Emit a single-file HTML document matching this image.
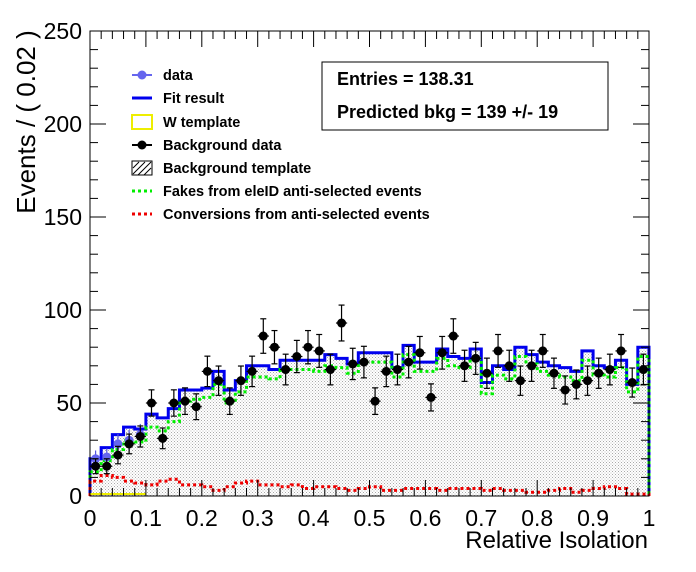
<!DOCTYPE html>
<html><head><meta charset="utf-8"><style>
body{margin:0;background:#fff;}
svg{display:block;font-family:"Liberation Sans",Arial,sans-serif;}
</style></head><body>
<svg id="c" width="696" height="572">
<defs><pattern id="hatch" width="3" height="3" patternUnits="userSpaceOnUse"><rect width="3" height="3" fill="#fff"/><rect width="1" height="1" fill="#aaa"/><rect x="1.5" y="1.5" width="1" height="1" fill="#bbb"/></pattern></defs>
</svg>
<script>
const fitVals=[20,26,33,37,36,44,42,47,57,57,58,67,57,62,70,70,68,73,73,73,73,76,74,71,77,77,77,69,81,72,72,79,75,74,79,61,70,68,80,76,72,70,69,67,78,70,69,73,60,80];
const fakeVals=[13,19,25,30,29,37,35,40,51,52,53,60,50,56,64,64,63,68,68,68,67,70,69,66,72,72,72,64,76,67,67,74,70,69,74,55,65,63,75,71,67,65,64,62,73,65,64,69,56,75];
const convVals=[8,11,10,8,7,6,8,9,6,6,5,3,5,7,8,6,6,5,6,4,5,5,4,3,4,5,3,3,4,4,4,3,4,4,4,3,4,3,3,2,2,3,4,2,3,4,5,4,1,1];
const dataVals=[16,16,22,28,32,50,31,50,51,48,67,62,51,62,67,86,80,68,75,80,78,68,93,71,72,51,67,68,72,77,53,77,86,70,74,66,78,70,62,70,78,66,57,60,62,66,68,78,61,68];
const sigVals=[20,21,28,30,33];
const yTicks=[0,50,100,150,200,250];
const xTicks=[0,0.1,0.2,0.3,0.4,0.5,0.6,0.7,0.8,0.9,1];
const X0=90,X1=649,Y0=496,Y1=31;
const xs=v=>X0+(X1-X0)*v, ys=v=>Y0-(Y0-Y1)*v/250;
const N=fitVals.length,bw=1/N;
const svg=document.getElementById('c');
const NS='http://www.w3.org/2000/svg';
function mk(t,a,p){const e=document.createElementNS(NS,t);for(const k in a)e.setAttribute(k,a[k]);(p||svg).appendChild(e);return e;}
function stepPath(vals){let d='M'+xs(0)+','+ys(0);vals.forEach((v,i)=>{d+=' L'+xs(i*bw)+','+ys(v)+' L'+xs((i+1)*bw)+','+ys(v);});return d+' L'+xs(1)+','+ys(0);}
let e=mk('path',{d:stepPath(fitVals)+' Z',fill:'url(#hatch)',stroke:'none'});


e=mk('path',{d:stepPath(fitVals),fill:'none',stroke:'#0000ee',"stroke-width":3});


e=mk('path',{d:stepPath(fakeVals),fill:'none',stroke:'#00ee00',"stroke-width":3,"stroke-dasharray":"3,3"});


e=mk('path',{d:stepPath(convVals),fill:'none',stroke:'#ee0000',"stroke-width":3,"stroke-dasharray":"3,3"});


e=mk('path',{d:'M'+xs(0)+','+(Y0-2)+' L'+xs(0.1)+','+(Y0-2),stroke:'#eeee00',"stroke-width":2});


sigVals.forEach((v,i)=>{const cx=xs((i+0.5)*bw),cy=ys(v),er=Math.sqrt(v)*1.86;
 mk('line',{x1:cx,x2:cx,y1:cy-er,y2:cy+er,stroke:'#5555dd',"stroke-width":1.2});
 const c=mk('circle',{cx:cx,cy:cy,r:4.5,fill:'#6666ee'});
 
 });
dataVals.forEach((v,i)=>{const cx=xs((i+0.5)*bw),cy=ys(v),er=Math.sqrt(v)*(Y0-Y1)/250,h=(X1-X0)*bw/2;
 mk('line',{x1:cx,x2:cx,y1:cy-er,y2:cy+er,stroke:'#000',"stroke-width":1.2});
 mk('line',{x1:cx-h,x2:cx+h,y1:cy,y2:cy,stroke:'#000',"stroke-width":1.2});
 mk('line',{x1:cx-3,x2:cx+3,y1:cy-er,y2:cy-er,stroke:'#000',"stroke-width":1.2});
 mk('line',{x1:cx-3,x2:cx+3,y1:cy+er,y2:cy+er,stroke:'#000',"stroke-width":1.2});
 const c=mk('circle',{cx:cx,cy:cy,r:4.5,fill:'#000'});
 
 });
e=mk('rect',{x:X0,y:Y1,width:X1-X0,height:Y0-Y1,fill:'none',stroke:'#000',"stroke-width":1});


yTicks.forEach((t,i)=>{const y=ys(t);
 mk('line',{x1:X0,x2:X0+16,y1:y,y2:y,stroke:'#000'});mk('line',{x1:X1,x2:X1-16,y1:y,y2:y,stroke:'#000'});
 if(i<yTicks.length-1)for(let k=1;k<5;k++){const yy=ys(t+k*10);mk('line',{x1:X0,x2:X0+8,y1:yy,y2:yy,stroke:'#000'});mk('line',{x1:X1,x2:X1-8,y1:yy,y2:yy,stroke:'#000'});}
 const tx=mk('text',{x:X0-8,y:y+8,"text-anchor":"end","font-size":23});tx.textContent=t;
 
 });
xTicks.forEach((t,i)=>{const x=xs(t);
 mk('line',{x1:x,x2:x,y1:Y0,y2:Y0-16,stroke:'#000'});mk('line',{x1:x,x2:x,y1:Y1,y2:Y1+16,stroke:'#000'});
 if(i<xTicks.length-1)for(let k=1;k<5;k++){const xx=xs(t+k*0.02);mk('line',{x1:xx,x2:xx,y1:Y0,y2:Y0-8,stroke:'#000'});mk('line',{x1:xx,x2:xx,y1:Y1,y2:Y1+8,stroke:'#000'});}
 const tx=mk('text',{x:x,y:Y0+30,"text-anchor":"middle","font-size":23});tx.textContent=t;
 
 });
</script>
<svg width="696" height="572" style="position:absolute;left:0;top:0">
<text x="648" y="548" text-anchor="end" font-size="24">Relative Isolation</text>
<text transform="translate(35,122) rotate(-90)" text-anchor="middle" font-size="26">Events / ( 0.02 )</text>
<g>
<rect x="322" y="62" width="286" height="68" fill="#fff" stroke="#000"/>
<text x="337" y="85" font-size="18" font-weight="bold">Entries =  138.31</text>
<text x="337" y="118" font-size="18" font-weight="bold">Predicted bkg = 139 +/- 19</text>
</g>
<g font-size="14.5" font-weight="bold">
<g><line x1="132" x2="152" y1="75" y2="75" stroke="#6666ee" stroke-width="2"/><circle cx="142" cy="75" r="4.5" fill="#6666ee"/><text x="163" y="80">data</text></g>
<g><line x1="132" x2="152" y1="98" y2="98" stroke="#0000ee" stroke-width="3"/><text x="163" y="103">Fit result</text></g>
<g><rect x="132" y="115" width="20" height="14" fill="#fff" stroke="#eeee00" stroke-width="2"/><text x="163" y="127">W template</text></g>
<g><line x1="132" x2="152" y1="145" y2="145" stroke="#000" stroke-width="2"/><circle cx="142" cy="145" r="4.5" fill="#000"/><text x="163" y="150">Background data</text></g>
<g><rect x="132" y="161" width="20" height="14" fill="#fff" stroke="#000"/><path d="M133,168 L139,162 M133,174 L145,162 M138,175 L151,162 M144,175 L151,168" stroke="#000"/><text x="163" y="173">Background template</text></g>
<g><line x1="132" x2="152" y1="191" y2="191" stroke="#00ee00" stroke-width="3" stroke-dasharray="3,3"/><text x="163" y="196">Fakes from eleID anti-selected events</text></g>
<g><line x1="132" x2="152" y1="214" y2="214" stroke="#ee0000" stroke-width="3" stroke-dasharray="3,3"/><text x="163" y="219">Conversions from anti-selected events</text></g>
</g>
</svg>
</body></html>
